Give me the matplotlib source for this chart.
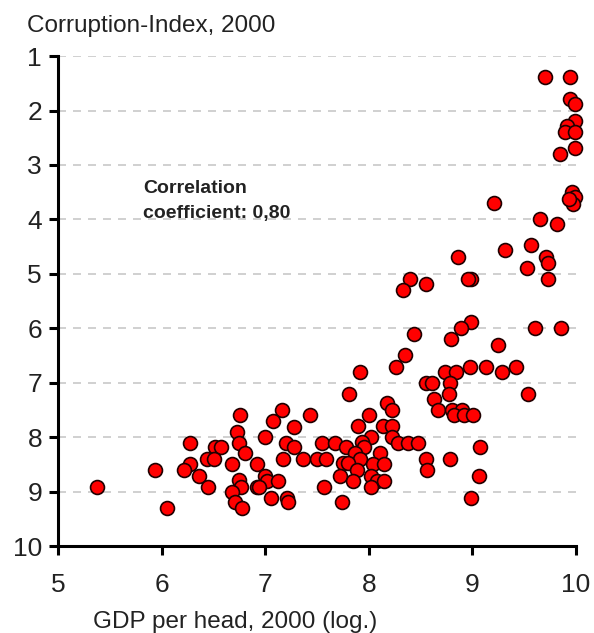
import matplotlib
matplotlib.use("Agg")
import matplotlib.pyplot as plt

plt.rcParams['font.family'] = ['Liberation Sans', 'DejaVu Sans']

# GDP per head (log) and corruption index
gdp = [9.70, 9.94, 9.94, 9.99, 9.99, 9.91, 9.89, 9.99, 9.99, 9.85,
       9.96, 9.99, 9.97, 9.93, 9.21, 9.65, 9.82, 9.57, 9.32, 8.86,
       9.71, 9.73, 9.53, 9.73, 8.40, 8.99, 8.96, 8.55, 8.33, 8.99,
       8.89, 9.60, 9.86, 8.44, 8.79, 9.25, 8.35, 8.26, 8.98, 9.13,
       9.42, 9.29, 7.92, 8.74, 8.84, 8.55, 8.61, 8.78, 7.81, 8.77,
       9.54, 8.63, 8.18, 8.22, 8.67, 8.80, 8.90, 8.82, 8.92, 9.01,
       7.43, 8.00, 7.90, 8.14, 8.22, 7.55, 7.67, 8.02, 7.93, 8.22,
       8.28, 8.38, 8.48, 7.78, 7.95, 9.07, 7.87, 8.11, 7.37, 7.50,
       7.59, 7.92, 8.55, 8.78, 7.75, 7.80, 8.04, 8.15, 7.89, 8.56,
       7.72, 8.02, 9.06, 7.85, 8.08, 8.15, 7.57, 8.02, 8.99, 7.74,
       6.76, 7.16, 7.08, 7.28, 6.73, 6.27, 6.75, 7.00, 7.20, 7.28,
       6.52, 6.57, 6.81, 6.44, 6.51, 7.17, 6.68, 6.92, 6.27, 6.22,
       5.94, 6.36, 7.00, 6.75, 7.02, 7.12, 6.45, 6.77, 6.92, 6.94,
       5.38, 6.68, 7.06, 7.21, 7.22, 6.71, 6.78, 6.05]
corruption = [1.39, 1.39, 1.79, 1.88, 2.19, 2.29, 2.39, 2.39, 2.68, 2.79,
              3.49, 3.58, 3.71, 3.62, 3.70, 4.00, 4.09, 4.47, 4.57, 4.69,
              4.69, 4.81, 4.89, 5.10, 5.10, 5.10, 5.10, 5.19, 5.30, 5.89,
              6.00, 6.00, 6.00, 6.10, 6.20, 6.30, 6.50, 6.71, 6.71, 6.71,
              6.71, 6.80, 6.80, 6.80, 6.80, 7.00, 7.00, 7.00, 7.20, 7.20,
              7.20, 7.30, 7.38, 7.50, 7.50, 7.50, 7.50, 7.59, 7.59, 7.59,
              7.59, 7.59, 7.80, 7.80, 7.80, 8.10, 8.10, 8.00, 8.08, 8.00,
              8.10, 8.10, 8.10, 8.19, 8.19, 8.19, 8.30, 8.30, 8.40, 8.40,
              8.40, 8.40, 8.40, 8.40, 8.48, 8.48, 8.50, 8.50, 8.61, 8.61,
              8.71, 8.71, 8.71, 8.80, 8.80, 8.80, 8.91, 8.91, 9.11, 9.20,
              7.59, 7.50, 7.70, 7.81, 7.90, 8.10, 8.10, 8.00, 8.10, 8.19,
              8.19, 8.19, 8.30, 8.40, 8.40, 8.40, 8.50, 8.50, 8.50, 8.61,
              8.61, 8.71, 8.71, 8.79, 8.80, 8.80, 8.91, 8.91, 8.91, 8.91,
              8.91, 9.00, 9.11, 9.11, 9.20, 9.20, 9.31, 9.31]

x_ticks = [5, 6, 7, 8, 9, 10]
y_ticks = [1, 2, 3, 4, 5, 6, 7, 8, 9, 10]

fig = plt.figure(figsize=(5.94, 6.33), dpi=100)
ax = fig.add_axes([0.0976, 0.1374, 0.872, 0.774])

for y in y_ticks[:-1]:
    ax.axhline(y, color='#c8c8c8', lw=1.2, ls=(0, (4.8, 4.2)), zorder=1)

ax.scatter(gdp, corruption, s=100, c='#ff0000', edgecolors='#200000',
           linewidths=1.2, zorder=3, clip_on=False)

ax.set_xlim(5, 10)
ax.set_ylim(10, 1)
ax.set_xticks(x_ticks)
ax.set_yticks(y_ticks)
ax.spines['top'].set_visible(False)
ax.spines['right'].set_visible(False)
ax.spines['left'].set_linewidth(2.2)
ax.spines['bottom'].set_linewidth(2.2)
ax.tick_params(axis='both', direction='out', length=6.5, width=2.2,
               labelsize=19, colors='black', labelcolor='#222222')
ax.tick_params(axis='x', pad=13)
ax.tick_params(axis='y', pad=5)

fig.text(27 / 594, 1 - 32 / 633, "Corruption-Index, 2000", fontsize=17.5,
         color='#222222', va='baseline', ha='left')
fig.text(93 / 594, 1 - 628 / 633, "GDP per head, 2000 (log.)", fontsize=17.5,
         color='#222222', va='baseline', ha='left')
fig.text(143 / 594, 1 - 193 / 633, "Correlation", fontsize=14,
         fontweight='bold', color='#222222', va='baseline', ha='left')
fig.text(143 / 594, 1 - 218 / 633, "coefficient: 0,80", fontsize=14,
         fontweight='bold', color='#222222', va='baseline', ha='left')

fig.savefig("out.png", dpi=100)
